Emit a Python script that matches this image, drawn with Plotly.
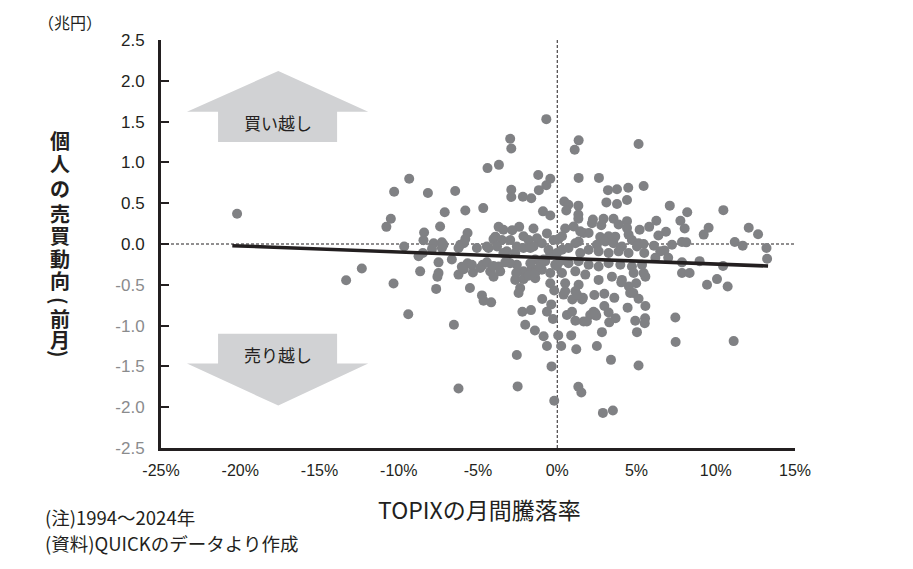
import plotly.graph_objects as go

# ---- data (TOPIX monthly change %, retail net buying next month, trillion yen) ----
points_left = [
    (-20.2, 0.37), (-13.32, -0.445), (-12.33, -0.30),
    (-9.34, 0.80), (-10.29, 0.64), (-8.16, 0.625), (-6.44, 0.65), (-7.1, 0.39), (-5.8, 0.41),
    (-10.5, 0.31), (-10.78, 0.21), (-8.4, 0.14), (-8.44, 0.045), (-7.39, 0.215), (-5.66, 0.135),
    (-6.12, -0.01), (-5.9, 0.01), (-9.66, -0.03), (-7.8, 0.01), (-7.28, 0.02),
    (-5.8, 0.06), (-7.9, -0.06), (-7.28, -0.05), (-8.48, -0.11), (-8.75, -0.15), (-7.49, -0.225),
    (-6.65, -0.19), (-6.02, -0.28), (-5.66, -0.235), (-8.65, -0.335), (-7.49, -0.355), (-7.56, -0.40),
    (-6.23, -0.375), (-5.32, -0.35), (-10.33, -0.485), (-7.64, -0.55), (-5.51, -0.54),
    (-9.4, -0.86), (-6.52, -0.99), (-6.23, -1.77), (-5.9, -0.31), (-5.39, -0.255), (-7.18, -0.01),
    (-6.23, -0.05),
]
points_midleft = [
    (-0.69, 1.53), (-2.97, 1.29), (-2.9, 1.17), (-4.4, 0.93), (-3.68, 0.97), (-2.9, 0.665),
    (-2.9, 0.575), (-2.17, 0.58), (-1.64, 0.56), (-1.2, 0.845), (-0.44, 0.80), (-0.69, 0.72),
    (-1.16, 0.66), (-4.67, 0.44), (-0.9, 0.40), (-0.44, 0.35),
    (-3.7, 0.21), (-3.4, 0.175), (-2.4, 0.21), (-2.84, 0.17), (-1.5, 0.19), (-3.9, 0.09), (-0.65, 0.13),
    (-4.02, 0.06), (-3.49, 0.05), (-2.97, 0.05), (-2.13, 0.095), (-1.81, 0.05), (-1.28, 0.07),
    (-0.97, 0.01), (-0.23, 0.05), (-4.44, -0.03), (-3.18, -0.09), (-2.55, -0.03), (-2.13, -0.05),
    (-1.5, -0.03), (-0.55, -0.07), (-5.07, -0.05),
    (-4.86, -0.295), (-4.23, -0.335), (-3.7, -0.275), (-3.18, -0.21), (-2.55, -0.255), (-2.13, -0.335),
    (-2.65, -0.44), (-2.13, -0.43), (-1.6, -0.295), (-1.39, -0.19), (-0.76, -0.21), (-0.13, -0.255),
    (-0.97, -0.315), (-0.44, -0.355), (-1.39, -0.42), (-0.44, -0.48), (-2.34, -0.54),
    (-4.75, -0.63), (-4.65, -0.695), (-4.17, -0.715), (-4.7, -0.255), (-4.44, -0.225), (-4.02, -0.27),
    (-4.02, -0.40), (-3.6, -0.335), (-3.28, -0.225), (-2.59, -0.355), (-2.44, -0.60), (-2.2, -0.83),
    (-1.66, -0.81), (-2.02, -0.99), (-1.41, -1.06), (-0.86, -1.13), (-0.65, -1.25), (-2.55, -1.36),
    (-2.5, -1.745), (-0.36, -1.50), (-0.19, -1.92), (-0.95, -0.675), (-0.38, -0.74), (-0.65, -0.83),
    (-0.27, -0.92), (-0.19, -0.57), (-2.65, -0.11), (-2.97, -0.235), (-3.4, -0.11), (-1.81, -0.39),
    (-1.39, -0.355), (-1.07, -0.275), (-1.7, -0.235), (-0.86, -0.19), (-0.44, -0.13), (-0.02, -0.11),
    (-4.34, -0.05), (-3.8, -0.03), (-1.7, -0.05), (-0.02, -0.27),
]
points_midright = [
    (1.35, 1.27), (1.1, 1.155), (1.35, 0.81), (2.63, 0.81), (3.2, 0.66), (3.77, 0.67), (4.48, 0.69),
    (3.1, 0.51), (3.77, 0.49), (4.4, 0.54), (0.44, 0.52), (0.7, 0.48), (0.57, 0.41), (1.33, 0.47),
    (1.33, 0.36), (1.33, 0.31), (2.25, 0.30), (2.92, 0.31), (3.55, 0.31), (4.4, 0.28), (3.87, 0.24),
    (2.78, 0.23), (0.5, 0.19), (1.03, 0.215), (4.4, 0.195), (1.66, 0.135), (1.98, 0.135), (1.45, 0.155),
    (0.08, 0.06), (1.35, 0.03), (2.71, 0.085), (3.66, 0.09), (4.71, 0.05),
    (2.19, 0.255), (3.24, 0.095), (4.5, 0.115), (0.3, 0.095), (1.14, 0.01), (2.5, -0.01), (3.03, 0.03),
    (3.55, 0.01), (4.08, -0.03), (0.3, -0.07), (0.71, -0.05), (1.45, -0.11), (1.98, -0.07),
    (2.61, -0.09), (3.24, -0.11), (3.87, -0.09), (4.5, -0.11), (0.19, -0.21), (0.71, -0.235),
    (1.35, -0.21), (1.98, -0.255), (2.61, -0.275), (3.24, -0.235), (3.98, -0.255), (4.71, -0.275),
    (0.3, -0.355), (1.14, -0.335), (1.77, -0.375), (2.61, -0.44), (3.45, -0.40), (4.08, -0.44),
    (4.82, -0.355), (0.5, -0.48), (1.35, -0.50), (4.52, -0.52), (4.98, -0.48), (4.04, -0.47),
    (1.14, -0.58), (0.4, -0.62), (0.95, -0.68), (1.56, -0.68), (1.62, -0.66), (2.34, -0.625),
    (2.97, -0.61), (2.97, -0.76), (3.6, -0.66), (4.6, -0.60), (4.44, -0.78), (3.68, -0.91),
    (3.28, -0.96), (2.82, -1.08), (2.5, -1.25), (3.39, -1.42), (2.88, -2.07), (3.51, -2.04),
    (1.33, -1.75), (1.52, -1.82), (1.2, -1.29), (0.25, -1.25), (0.06, -1.12), (0.88, -1.12),
    (2.46, -0.88), (2.29, -0.83), (2.08, -0.87), (1.66, -0.95), (1.14, -0.94), (0.61, -0.87),
    (4.92, -0.94), (4.8, -0.60), (1.87, -0.95), (2.4, -0.85), (3.24, -0.84), (0.93, -0.83),
    (1.24, -0.62), (0.5, -0.58),
]
points_right = [
    (5.13, 1.225), (5.45, 0.71), (5.2, 0.175), (5.8, 0.21), (6.25, 0.285), (7.1, 0.47), (8.2, 0.39),
    (10.48, 0.415), (7.77, 0.285), (8.04, 0.19), (6.86, 0.15), (6.38, 0.105), (9.55, 0.20), (9.24, 0.115),
    (12.08, 0.20), (12.67, 0.12), (11.2, 0.025), (11.7, -0.02), (13.2, -0.05), (7.87, 0.025), (8.14, 0.02),
    (7.24, -0.01), (6.1, -0.02), (5.13, 0.01), (5.45, 0.0),
    (13.24, -0.18), (5.49, -0.11), (6.5, -0.09), (6.76, -0.08), (6.19, -0.17), (7.0, -0.17),
    (7.87, -0.225), (8.98, -0.21), (10.46, -0.27), (5.45, -0.355), (5.56, -0.40), (7.87, -0.355),
    (8.35, -0.355), (9.45, -0.50), (10.08, -0.43), (10.75, -0.52),
    (7.45, -0.90), (7.47, -1.20), (11.13, -1.19), (5.56, -0.76), (5.54, -0.91), (5.52, -0.97),
    (5.03, -1.08), (5.13, -1.49), (5.13, -0.67), (5.35, -0.255), (5.03, -0.03),
]
all_points = points_left + points_midleft + points_midright + points_right
topix_change = [p[0] for p in all_points]
retail_flow = [p[1] for p in all_points]

trend_x = [-20.5, 13.3]
trend_y = [-0.02, -0.27]

x_ticks = [-25, -20, -15, -10, -5, 0, 5, 10, 15]
x_tick_labels = [f"{v}%" for v in x_ticks]
y_ticks = [2.5, 2.0, 1.5, 1.0, 0.5, 0.0, -0.5, -1.0, -1.5, -2.0, -2.5]
y_tick_labels = [f"{v:.1f}" if v >= 0 else f'<span style="color:#8a8b8d">{v:.1f}</span>'
                 for v in y_ticks]

JP = "Noto Sans CJK JP"
NUM = "Liberation Sans, Arial, sans-serif"
INK = "#231f20"

# pixel -> paper helpers (plot area is 161..795 x 40..448)
def px(x):
    return (x - 161) / 634.0

def py(y):
    return (448 - y) / 408.0

fig = go.Figure()
fig.add_trace(go.Scatter(
    x=topix_change, y=retail_flow, mode="markers",
    marker=dict(size=10, color="#808184", line=dict(width=0)),
    hoverinfo="x+y", showlegend=False,
))
fig.add_trace(go.Scatter(
    x=trend_x, y=trend_y, mode="lines",
    line=dict(color=INK, width=3.5), showlegend=False, hoverinfo="skip",
))

shapes = [
    dict(type="line", xref="x", yref="y", x0=-25, x1=15, y0=0, y1=0,
         line=dict(color=INK, width=1, dash="3px,2px"), layer="below"),
    dict(type="line", xref="x", yref="y", x0=0, x1=0, y0=-2.5, y1=2.5,
         line=dict(color=INK, width=1, dash="3px,2px"), layer="below"),
    dict(type="path", xref="x", yref="y", layer="below",
         path="M -21.4,1.25 L -21.4,1.62 L -23.36,1.62 L -17.6,2.12 L -11.93,1.62 L -13.89,1.62 L -13.89,1.25 Z",
         fillcolor="#d1d2d4", line=dict(width=0)),
    dict(type="path", xref="x", yref="y", layer="below",
         path="M -21.4,-1.10 L -13.89,-1.10 L -13.89,-1.465 L -11.93,-1.465 L -17.6,-1.98 L -23.36,-1.465 L -21.4,-1.465 Z",
         fillcolor="#d1d2d4", line=dict(width=0)),
]

def note(text, x, y, size, xanchor="center", bold=False, angle=0):
    return dict(x=px(x), y=py(y), xref="paper", yref="paper",
                text=f"<b>{text}</b>" if bold else text, showarrow=False,
                xanchor=xanchor, yanchor="middle", textangle=angle,
                font=dict(family=JP, size=size, color=INK))

annotations = [
    dict(x=-17.6, y=1.49, xref="x", yref="y", text="買い越し", showarrow=False,
         xanchor="center", yanchor="middle", font=dict(family=JP, size=17, color=INK)),
    dict(x=-17.6, y=-1.36, xref="x", yref="y", text="売り越し", showarrow=False,
         xanchor="center", yanchor="middle", font=dict(family=JP, size=17, color=INK)),
    note("（兆円）", 70, 22, 16),
    note("TOPIXの月間騰落率", 479, 509, 23),
    note("(注)1994～2024年", 43, 517, 18.5, xanchor="left"),
    note("(資料)QUICKのデータより作成", 43, 543, 18.5, xanchor="left"),
]

ytitle_chars = ["個", "人", "の", "売", "買", "動", "向", "(", "前", "月", ")"]
ytitle_pos = [140, 163, 188, 213, 235, 258, 280, 301, 318, 339, 354]
for ch, yy in zip(ytitle_chars, ytitle_pos):
    ang = 90 if ch in "()" else 0
    annotations.append(note(ch, 60, yy, 20, bold=True, angle=ang))

fig.update_layout(
    width=913, height=569,
    margin=dict(l=161, r=118, t=40, b=121),
    paper_bgcolor="white", plot_bgcolor="white",
    shapes=shapes, annotations=annotations,
    xaxis=dict(range=[-25, 15], tickvals=x_ticks, ticktext=x_tick_labels,
               showline=True, linecolor=INK, linewidth=3, ticks="outside", ticklen=6,
               tickcolor="rgba(0,0,0,0)", showgrid=False, zeroline=False,
               tickfont=dict(family=NUM, size=16, color=INK)),
    yaxis=dict(range=[-2.5, 2.5], tickvals=y_ticks, ticktext=y_tick_labels,
               showline=True, linecolor=INK, linewidth=3, ticks="inside", ticklen=8,
               tickwidth=2, tickcolor=INK, showgrid=False, zeroline=False,
               ticklabelstandoff=10,
               tickfont=dict(family=NUM, size=17, color=INK)),
)

fig.write_html("out.html")
